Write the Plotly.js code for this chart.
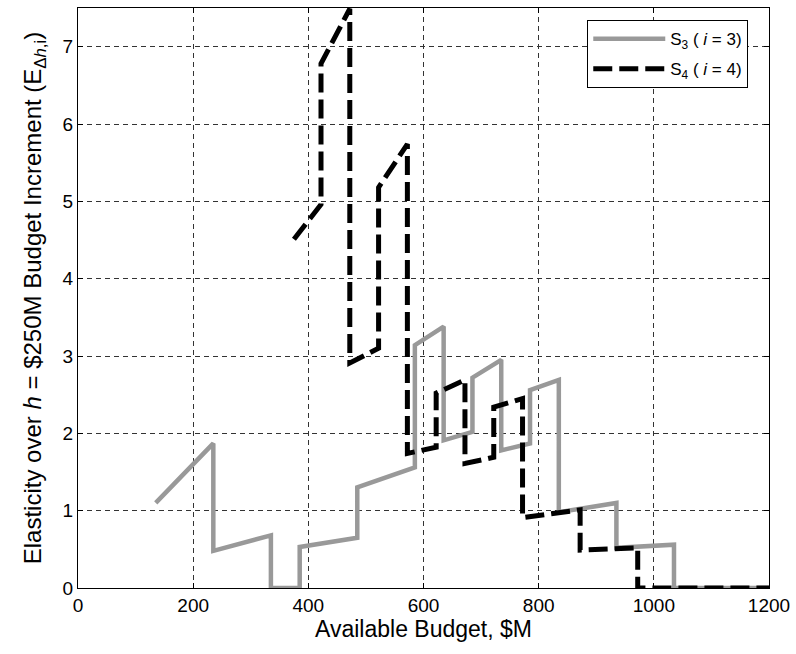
<!DOCTYPE html>
<html>
<head>
<meta charset="utf-8">
<script src="https://cdn.plot.ly/plotly-3.0.1.min.js"></script>
<style>html,body{margin:0;padding:0;background:#fff;}#chart{width:796px;height:654px;}</style>
</head>
<body>
<div id="chart"></div>
<script>
// Series S3 (i = 3): budget ($M) and elasticity values along the step-like path
const s3Budget = [135, 235, 235, 335, 335, 385, 385, 485, 485, 585, 585, 635, 635, 685, 685, 735, 735, 785, 785, 835, 835, 935, 935, 1035, 1035, 1200];
const s3Elast  = [1.10, 1.87, 0.48, 0.68, 0, 0, 0.53, 0.65, 1.30, 1.56, 3.14, 3.38, 1.91, 2.02, 2.72, 2.95, 1.78, 1.87, 2.56, 2.69, 0.98, 1.10, 0.52, 0.56, 0, 0];

// Series S4 (i = 4)
const s4Budget = [375, 422, 422, 472, 472, 522, 522, 572, 572, 622, 622, 672, 672, 722, 722, 772, 772, 872, 872, 972, 972, 1200];
const s4Elast  = [4.51, 4.96, 6.78, 7.49, 2.91, 3.10, 5.18, 5.74, 1.74, 1.82, 2.52, 2.69, 1.61, 1.69, 2.34, 2.45, 0.91, 1.01, 0.49, 0.52, 0, 0];

const xTicks = [0, 200, 400, 600, 800, 1000, 1200];
const yTicks = [0, 1, 2, 3, 4, 5, 6, 7];
const seriesNames = ['S<sub>3</sub> ( <i>i</i> = 3)', 'S<sub>4</sub> ( <i>i</i> = 4)'];

const FONT = 'Liberation Sans, Arial, sans-serif';

const traces = [
  {x: s3Budget, y: s3Elast, type: 'scatter', mode: 'lines', name: seriesNames[0],
   legendgroup: 'a', line: {color: '#999999', width: 4.5}},
  {x: s4Budget, y: s4Elast, type: 'scatter', mode: 'lines', name: seriesNames[1],
   legendgroup: 'b', line: {color: '#000000', width: 5, dash: '19px,7px'}}
];

const axisCommon = {
  showline: true, linecolor: '#000', linewidth: 1, mirror: 'ticks',
  ticks: 'inside', ticklen: 5, tickcolor: '#000',
  showgrid: true, gridcolor: '#333', gridwidth: 1, griddash: '5px,4px',
  zeroline: false, tickfont: {family: FONT, size: 19, color: '#000'}
};

const layout = {
  width: 796, height: 654,
  margin: {l: 78, r: 27, t: 8, b: 66},
  paper_bgcolor: '#fff', plot_bgcolor: '#fff',
  font: {family: FONT, color: '#000'},
  showlegend: true,
  legend: {
    x: 0.737, y: 0.979, xanchor: 'left', yanchor: 'top',
    bgcolor: '#fff', bordercolor: '#000', borderwidth: 1,
    font: {family: FONT, size: 17, color: '#000'},
    itemwidth: 72, tracegroupgap: 5, traceorder: 'grouped'
  },
  xaxis: Object.assign({}, axisCommon, {
    range: [0, 1200], tickvals: xTicks, ticktext: xTicks.map(String),
    title: {text: 'Available Budget, $M', font: {family: FONT, size: 23, color: '#000'}, standoff: 2}
  }),
  yaxis: Object.assign({}, axisCommon, {
    range: [0, 7.5], tickvals: yTicks, ticktext: yTicks.map(String),
    title: {text: 'Elasticity over <i>h</i> = $250M Budget Increment (E<sub>Δ<i>h</i>,i</sub>)', font: {family: FONT, size: 24, color: '#000'}, standoff: 14}
  })
};

Plotly.newPlot('chart', traces, layout, {displayModeBar: false, staticPlot: true});
</script>
</body>
</html>
